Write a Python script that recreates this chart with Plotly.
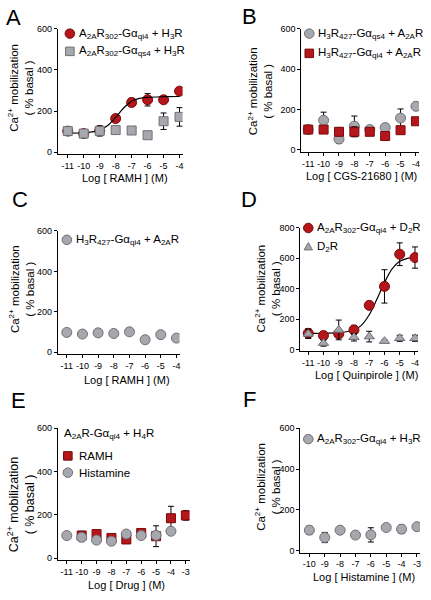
import plotly.graph_objects as go

RED = "#b5161c"
RED_EDGE = "#7a0a0a"
GRAY = "#a7a7ae"
GRAY_EDGE = "#6f6f75"
FONT = "Liberation Sans, Arial, sans-serif"

# ---------------- data ----------------
# Panel A
a_x = [-11, -10, -9, -8, -7, -6, -5, -4]
a_qi4 = [103, 91, 105, 164, 242, 255, 255, 297]
a_qi4_err = [10, 8, 10, 15, 20, 30, 5, 5]
a_qs4 = [103, 91, 104, 108, 106, 83, 151, 172]
a_qs4_err = [20, 10, 25, 8, 6, 6, 40, 45]
a_fit_x = [-11, -10, -9.5, -9, -8.5, -8, -7.5, -7, -6.5, -6, -5, -4]
a_fit_y = [93, 95, 99, 108, 130, 170, 215, 248, 262, 267, 270, 271]

# Panel B
b_x = [-11, -10, -9, -8, -7, -6, -5, -4]
b_qs4 = [101, 147, 54, 118, 101, 111, 158, 216]
b_qs4_err = [8, 40, 20, 50, 8, 20, 45, 6]
b_qi4 = [101, 101, 90, 90, 90, 69, 98, 142]
b_qi4_err = [6, 6, 20, 25, 15, 6, 6, 6]

# Panel C
c_x = [-11, -10, -9, -8, -7, -6, -5, -4]
c_qi4 = [98, 90, 96, 93, 101, 62, 87, 70]

# Panel D
d_x = [-11, -10, -9, -8, -7, -6, -5, -4]
d_qi4 = [106, 91, 102, 128, 290, 415, 627, 605]
d_qi4_err = [30, 20, 25, 30, 10, 110, 75, 70]
d_d2r = [102, 41, 128, 80, 84, 54, 73, 73]
d_d2r_err = [30, 20, 65, 25, 35, 8, 20, 20]
d_fit_x = [-11, -10, -9, -8.5, -8, -7.5, -7, -6.5, -6, -5.5, -5, -4.5, -4]
d_fit_y = [105, 106, 110, 116, 128, 160, 228, 330, 440, 530, 580, 600, 607]

# Panel E
e_ramh_x = [-10, -9, -8, -7, -6, -5, -4, -3]
e_ramh = [105, 112, 94, 87, 117, 102, 185, 198]
e_ramh_err = [20, 8, 15, 10, 8, 48, 55, 22]
e_hist_x = [-11, -10, -9, -8, -7, -6, -5, -4]
e_hist = [105, 97, 84, 79, 112, 105, 106, 125]
e_hist_err = [5, 18, 5, 15, 5, 5, 5, 5]

# Panel F
f_x = [-10, -9, -8, -7, -6, -5, -4, -3]
f_qi4 = [100, 64, 100, 76, 77, 113, 105, 117]
f_qi4_err = [20, 25, 15, 15, 35, 5, 20, 5]

Y_TITLE = "Ca<sup>2+</sup> mobilization<br>( % basal )"

W, H = 431, 600
fig = go.Figure()

def px_x(p):
    return p / W

def px_y(p):
    return 1 - p / H

# name: x px, x range, y px, y range, y ticks, x ticks, x title, x title pos, y title pos
panels = {
    "A": ((58, 183), [-11.62, -3.81], (24, 151), [-8, 600], [0, 200, 400, 600], a_x,
          "Log [ RAMH ] (M)", (125, 175), (21, 84)),
    "B": ((302, 420), [-11.45, -3.8], (24, 149), [-10, 600], [0, 200, 400, 600], b_x,
          "Log [ CGS-21680 ] (M)", (362, 173), (261, 87)),
    "C": ((58, 180), [-11.57, -3.8], (229, 354), [-10, 600], [0, 200, 400, 600], c_x,
          "Log [ RAMH ] (M)", (127, 380), (21, 288)),
    "D": ((301, 419), [-11.52, -3.8], (226, 351), [-13, 800], [0, 200, 400, 600, 800], d_x,
          "Log [ Quinpirole ] (M)", (367, 375), (268, 287)),
    "E": ((58, 190), [-11.6, -2.75], (429, 563), [-10, 600], [0, 200, 400, 600],
          [-11, -10, -9, -8, -7, -6, -5, -4, -3],
          "Log [ Drug ] (M)", (127, 588), (21, 506)),
    "F": ((301, 421), [-10.59, -2.8], (429, 555), [-10, 600], [0, 200, 400, 600], f_x,
          "Log [ Histamine ] (M)", (365, 580), (268, 488)),
}

annotations = []
shapes = []
layout_axes = {}
axis_ids = {}
for i, (name, (xp, xr, yp, yr, yt, xt, xtitle, xtp, ytp)) in enumerate(panels.items()):
    n = i + 1
    xa = "xaxis" if n == 1 else f"xaxis{n}"
    ya = "yaxis" if n == 1 else f"yaxis{n}"
    xref = "x" if n == 1 else f"x{n}"
    yref = "y" if n == 1 else f"y{n}"
    axis_ids[name] = (xref, yref)
    layout_axes[xa] = dict(
        domain=[px_x(xp[0]), px_x(xp[1])], range=xr, anchor=yref,
        showline=True, linecolor="black", linewidth=1, ticks="outside", ticklen=3,
        tickwidth=1, tickcolor="black", tickvals=xt, ticktext=[str(v) for v in xt],
        showgrid=False, zeroline=False, tickfont=dict(size=9, family=FONT, color="black"),
    )
    layout_axes[ya] = dict(
        domain=[px_y(yp[1]), px_y(yp[0])], range=yr, anchor=xref,
        showline=True, linecolor="black", linewidth=1, ticks="outside", ticklen=3,
        tickwidth=1, tickcolor="black", tickvals=yt, ticktext=[str(v) for v in yt],
        showgrid=False, zeroline=False, tickfont=dict(size=9, family=FONT, color="black"),
    )
    annotations.append(dict(text=xtitle, x=px_x(xtp[0]), y=px_y(xtp[1]), xref="paper", yref="paper",
                            xanchor="center", yanchor="middle", showarrow=False,
                            font=dict(size=11, family=FONT, color="black")))
    annotations.append(dict(text=Y_TITLE, x=px_x(ytp[0]), y=px_y(ytp[1]), xref="paper", yref="paper",
                            xanchor="center", yanchor="middle", showarrow=False, textangle=-90,
                            font=dict(size=11.5 if name != "E" else 12.5, family=FONT, color="black")))

def add_pts(panel, x, y, err, symbol, fill, edge, size=10):
    xr, yr = axis_ids[panel]
    fig.add_trace(go.Scatter(
        x=x, y=y, mode="markers", xaxis=xr, yaxis=yr, showlegend=False,
        marker=dict(symbol=symbol, size=size, color=fill, line=dict(color=edge, width=1)),
        error_y=None if err is None else dict(type="data", array=err, visible=True,
                                              color="black", thickness=1, width=3),
    ))

def add_fit(panel, x, y):
    xr, yr = axis_ids[panel]
    fig.add_trace(go.Scatter(x=x, y=y, mode="lines", xaxis=xr, yaxis=yr, showlegend=False,
                             line=dict(color="black", width=1.2, shape="spline")))

# A
add_pts("A", a_x, a_qi4, a_qi4_err, "circle", RED, RED_EDGE)
add_fit("A", a_fit_x, a_fit_y)
add_pts("A", a_x, a_qs4, a_qs4_err, "square", GRAY, GRAY_EDGE, 9)
# B
add_pts("B", b_x, b_qs4, b_qs4_err, "circle", GRAY, GRAY_EDGE)
add_pts("B", b_x, b_qi4, b_qi4_err, "square", RED, RED_EDGE, 9)
# C
add_pts("C", c_x, c_qi4, None, "circle", GRAY, GRAY_EDGE)
# D
add_fit("D", d_fit_x, d_fit_y)
add_pts("D", d_x, d_qi4, d_qi4_err, "circle", RED, RED_EDGE)
add_pts("D", d_x, d_d2r, d_d2r_err, "triangle-up", GRAY, GRAY_EDGE, 9)
# E
add_pts("E", e_ramh_x, e_ramh, e_ramh_err, "square", RED, RED_EDGE, 9)
add_pts("E", e_hist_x, e_hist, e_hist_err, "circle", GRAY, GRAY_EDGE)
# F
add_pts("F", f_x, f_qi4, f_qi4_err, "circle", GRAY, GRAY_EDGE)

def key(kind, cx, cy, fill, edge, r=4.8):
    if kind == "circle":
        shapes.append(dict(type="circle", xref="paper", yref="paper",
                           x0=px_x(cx - r), x1=px_x(cx + r), y0=px_y(cy + r), y1=px_y(cy - r),
                           fillcolor=fill, line=dict(color=edge, width=1)))
    elif kind == "square":
        r = r - 0.5
        shapes.append(dict(type="rect", xref="paper", yref="paper",
                           x0=px_x(cx - r), x1=px_x(cx + r), y0=px_y(cy + r), y1=px_y(cy - r),
                           fillcolor=fill, line=dict(color=edge, width=1)))
    elif kind == "triangle":
        shapes.append(dict(type="path", xref="paper", yref="paper",
                           path=f"M {px_x(cx - r)} {px_y(cy + r - 1)} L {px_x(cx + r)} {px_y(cy + r - 1)} L {px_x(cx)} {px_y(cy - r)} Z",
                           fillcolor=fill, line=dict(color=edge, width=1)))

def label(text, x, y, size=11.5):
    annotations.append(dict(text=text, x=px_x(x), y=px_y(y), xref="paper", yref="paper",
                            xanchor="left", yanchor="middle", showarrow=False,
                            font=dict(size=size, family=FONT, color="black")))

# legends
key("circle", 70, 29, RED, RED_EDGE)
label("A<sub>2A</sub>R<sub>302</sub>-Gα<sub>qi4</sub> + H<sub>3</sub>R", 77, 29)
key("square", 70, 47, GRAY, GRAY_EDGE)
label("A<sub>2A</sub>R<sub>302</sub>-Gα<sub>qs4</sub> + H<sub>3</sub>R", 77, 47)

key("circle", 310, 29, GRAY, GRAY_EDGE)
label("H<sub>3</sub>R<sub>427</sub>-Gα<sub>qs4</sub> + A<sub>2A</sub>R", 317, 29)
key("square", 310, 49, RED, RED_EDGE)
label("H<sub>3</sub>R<sub>427</sub>-Gα<sub>qi4</sub> + A<sub>2A</sub>R", 317, 49)

key("circle", 67, 238, GRAY, GRAY_EDGE)
label("H<sub>3</sub>R<sub>427</sub>-Gα<sub>qi4</sub> + A<sub>2A</sub>R", 74, 238)

key("circle", 309, 226, RED, RED_EDGE)
label("A<sub>2A</sub>R<sub>302</sub>-Gα<sub>qi4</sub> + D<sub>2</sub>R", 316, 226)
key("triangle", 309, 245, GRAY, GRAY_EDGE, 4.2)
label("D<sub>2</sub>R", 316, 245)

label("A<sub>2A</sub>R-Gα<sub>qi4</sub> + H<sub>4</sub>R", 62, 435)
key("square", 68, 457, RED, RED_EDGE)
label("RAMH", 77, 457)
key("circle", 68, 474, GRAY, GRAY_EDGE)
label("Histamine", 77, 474)

key("circle", 309, 440, GRAY, GRAY_EDGE)
label("A<sub>2A</sub>R<sub>302</sub>-Gα<sub>qi4</sub> + H<sub>3</sub>R", 316, 440)

# panel letters
for letter, lx, ly in [("A", 14, 13), ("B", 250, 12), ("C", 20, 197),
                       ("D", 250, 197), ("E", 19, 401), ("F", 250, 400)]:
    annotations.append(dict(text=letter, x=px_x(lx), y=px_y(ly), xref="paper", yref="paper",
                            xanchor="center", yanchor="middle", showarrow=False,
                            font=dict(size=22, family=FONT, color="black")))

fig.update_layout(
    width=W, height=H, margin=dict(l=0, r=0, t=0, b=0),
    paper_bgcolor="white", plot_bgcolor="white", showlegend=False,
    shapes=shapes, annotations=annotations, **layout_axes,
)

fig.write_html("out.html", config={"displayModeBar": False},
               post_script="document.body.style.margin='0px';document.body.style.overflow='hidden';")
